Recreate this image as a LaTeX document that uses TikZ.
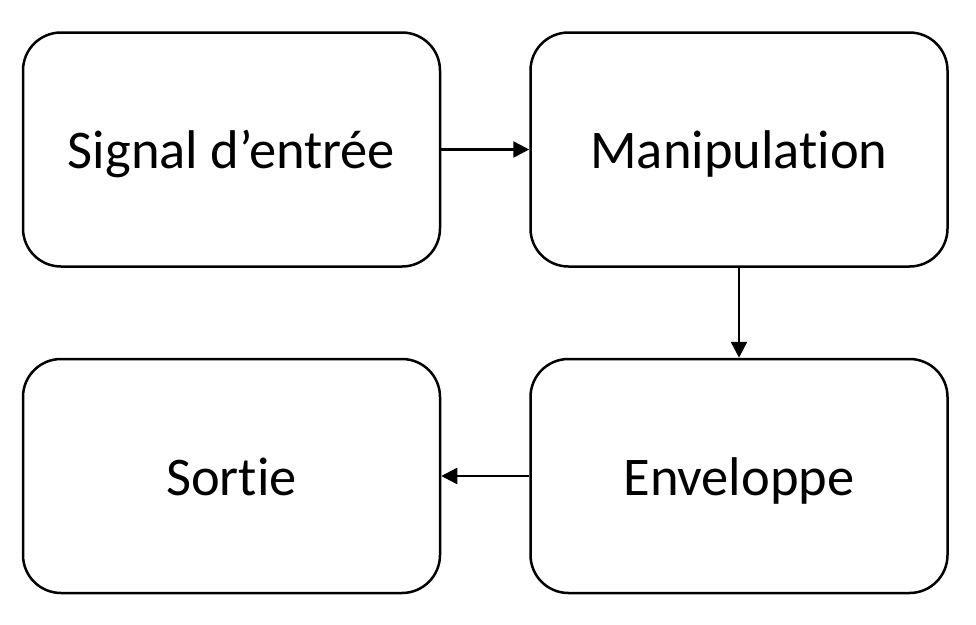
\documentclass[tikz,border=0pt]{standalone}
\usepackage{fontspec}
\setmainfont{Carlito}[Ligatures=NoCommon,RawFeature=-liga]
\usepackage{tikz}
\usetikzlibrary{
	arrows.meta,
	positioning
}
\tikzset{
  % node
	cstbox/.style   ={draw=black,fill=white,text=black,rounded corners=38pt,line width=2.5pt,
	                  minimum width=417pt,minimum height=234pt,text height=38pt,text depth=0pt,
	                  font=\fontsize{54.5}{60}\selectfont},
  % arrow
	cstra/.style    ={-{Triangle[length=16pt,width=16pt]}, line width=2.5pt}
}

\begin{document}
\begin{tikzpicture}[x=1pt,y=-1pt]
	\useasboundingbox (0,0) rectangle (976,624);
	\node[cstbox] (entree) at (231.5,149.5) {Signal d’entrée};
	\node[cstbox] (manip) at (739,149.5) {Manipulation};
	\node[cstbox] (env) at (739,476) {Enveloppe};
	\node[cstbox] (sortie) at (231.5,476) {Sortie};
	\draw[cstra] (entree) -- (manip);
	\draw[cstra] (manip) -- (env);
	\draw[cstra] (env) -- (sortie);
\end{tikzpicture}
\end{document}
